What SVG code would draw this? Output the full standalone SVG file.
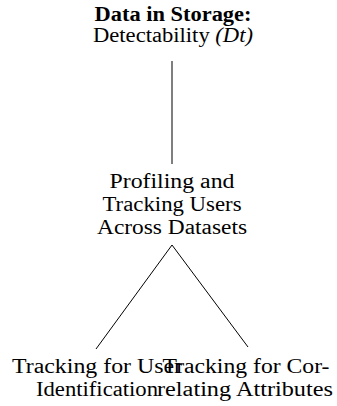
<svg xmlns="http://www.w3.org/2000/svg" width="337" height="406" viewBox="0 0 337 406">
<style>
  text { font-family: "Liberation Serif", "DejaVu Serif", serif; font-size: 20px; fill: #000; text-anchor: middle; }
  .b { font-weight: bold; }
  .i { font-style: italic; }
  .edge { stroke: #000; stroke-width: 1; fill: none; }
</style>
<rect width="337" height="406" fill="#fff"/>
<g id="connectors">
  <line class="edge" x1="172" y1="61" x2="172" y2="164"/>
  <line class="edge" x1="172" y1="245" x2="96" y2="349"/>
  <line class="edge" x1="172" y1="245" x2="248" y2="347"/>
</g>
<g id="node-storage">
  <text class="b" x="173" y="21" textLength="157" lengthAdjust="spacingAndGlyphs">Data in Storage:</text>
  <text x="173" y="42" textLength="160" lengthAdjust="spacingAndGlyphs">Detectability <tspan class="i">(Dt)</tspan></text>
</g>
<g id="node-profiling">
  <text x="172" y="188" textLength="125" lengthAdjust="spacingAndGlyphs">Profiling and</text>
  <text x="172" y="211" textLength="139" lengthAdjust="spacingAndGlyphs">Tracking Users</text>
  <text x="172" y="234" textLength="150" lengthAdjust="spacingAndGlyphs">Across Datasets</text>
</g>
<g id="node-user-id">
  <text x="97" y="373" textLength="170" lengthAdjust="spacingAndGlyphs">Tracking for User</text>
  <text x="97" y="396" textLength="122" lengthAdjust="spacingAndGlyphs">Identification</text>
</g>
<g id="node-correlating">
  <text x="246" y="373" textLength="167" lengthAdjust="spacingAndGlyphs">Tracking for Cor-</text>
  <text x="245" y="396" textLength="176" lengthAdjust="spacingAndGlyphs">relating Attributes</text>
</g>
</svg>
